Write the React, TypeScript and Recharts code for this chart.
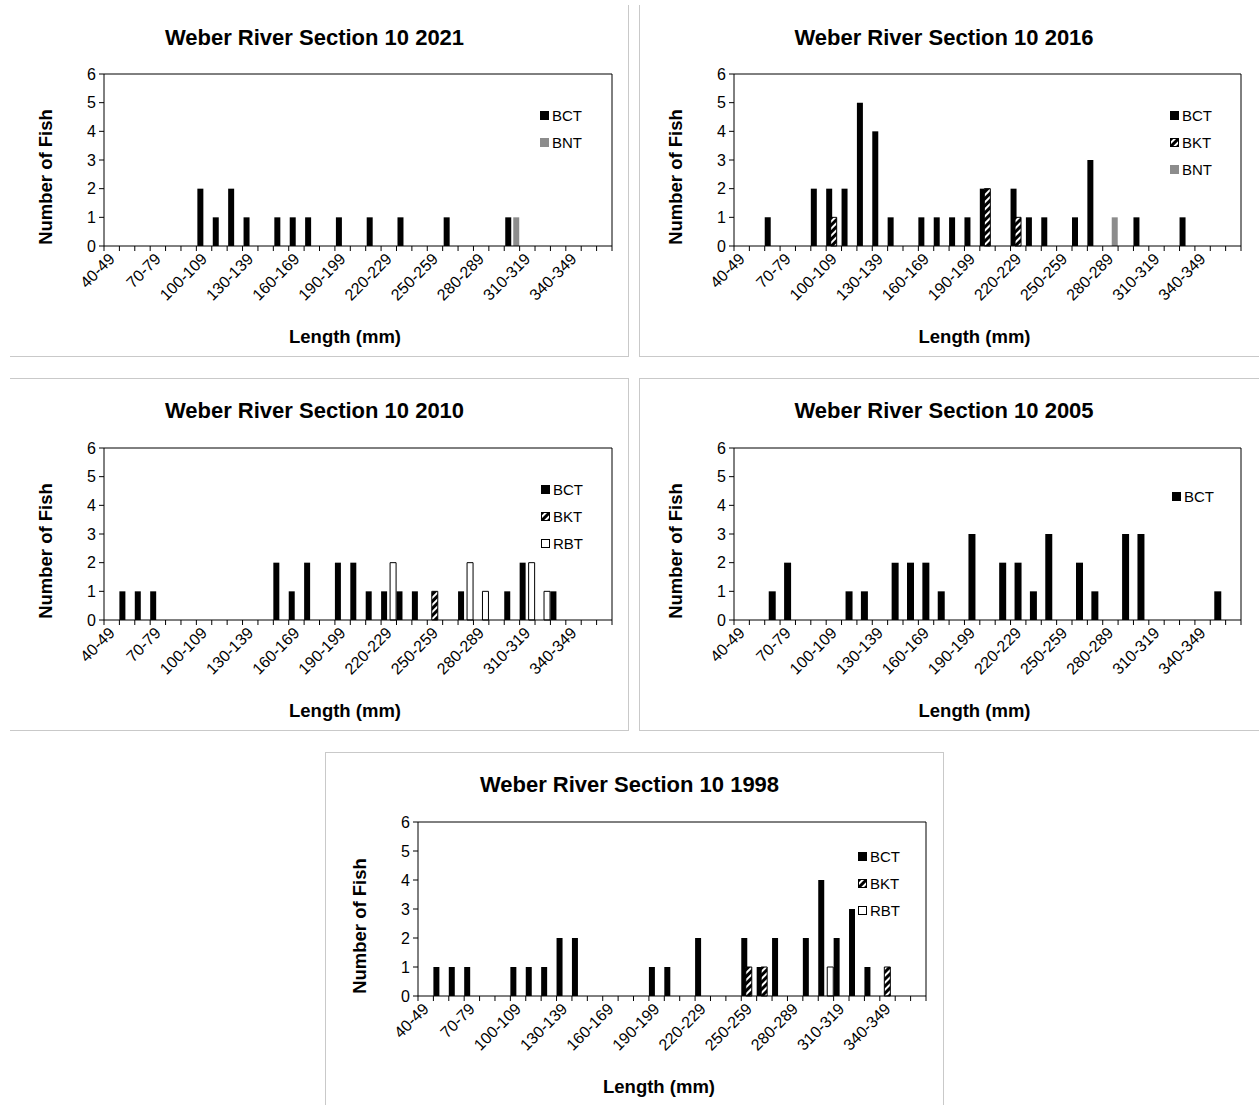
import React from "react";
import {
  BarChart,
  Bar,
  XAxis,
  YAxis,
  CartesianGrid,
  Legend,
} from "recharts";

// Length classes (mm), 10 mm bins
const CATEGORIES = [
  "40-49", "50-59", "60-69", "70-79", "80-89", "90-99", "100-109", "110-119",
  "120-129", "130-139", "140-149", "150-159", "160-169", "170-179", "180-189",
  "190-199", "200-209", "210-219", "220-229", "230-239", "240-249", "250-259",
  "260-269", "270-279", "280-289", "290-299", "300-309", "310-319", "320-329",
  "330-339", "340-349", "350-359", "360-369",
];

const Y_TICKS = [0, 1, 2, 3, 4, 5, 6];

// Fish counts per length class
const BCT_2021 = [
  0, 0, 0, 0, 0, 0, 2, 1, 2, 1, 0,
  1, 1, 1, 0, 1, 0, 1, 0, 1, 0, 0,
  1, 0, 0, 0, 1, 0, 0, 0, 0, 0, 0,
];
const BNT_2021 = [
  0, 0, 0, 0, 0, 0, 0, 0, 0, 0, 0,
  0, 0, 0, 0, 0, 0, 0, 0, 0, 0, 0,
  0, 0, 0, 0, 1, 0, 0, 0, 0, 0, 0,
];

const BCT_2016 = [
  0, 0, 1, 0, 0, 2, 2, 2, 5, 4, 1,
  0, 1, 1, 1, 1, 2, 0, 2, 1, 1, 0,
  1, 3, 0, 0, 1, 0, 0, 1, 0, 0, 0,
];
const BKT_2016 = [
  0, 0, 0, 0, 0, 0, 1, 0, 0, 0, 0,
  0, 0, 0, 0, 0, 2, 0, 1, 0, 0, 0,
  0, 0, 0, 0, 0, 0, 0, 0, 0, 0, 0,
];
const BNT_2016 = [
  0, 0, 0, 0, 0, 0, 0, 0, 0, 0, 0,
  0, 0, 0, 0, 0, 0, 0, 0, 0, 0, 0,
  0, 0, 1, 0, 0, 0, 0, 0, 0, 0, 0,
];

const BCT_2010 = [
  0, 1, 1, 1, 0, 0, 0, 0, 0, 0, 0,
  2, 1, 2, 0, 2, 2, 1, 1, 1, 1, 0,
  0, 1, 0, 0, 1, 2, 0, 1, 0, 0, 0,
];
const BKT_2010 = [
  0, 0, 0, 0, 0, 0, 0, 0, 0, 0, 0,
  0, 0, 0, 0, 0, 0, 0, 0, 0, 0, 1,
  0, 0, 0, 0, 0, 0, 0, 0, 0, 0, 0,
];
const RBT_2010 = [
  0, 0, 0, 0, 0, 0, 0, 0, 0, 0, 0,
  0, 0, 0, 0, 0, 0, 0, 2, 0, 0, 0,
  0, 2, 1, 0, 0, 2, 1, 0, 0, 0, 0,
];

const BCT_2005 = [
  0, 0, 1, 2, 0, 0, 0, 1, 1, 0, 2,
  2, 2, 1, 0, 3, 0, 2, 2, 1, 3, 0,
  2, 1, 0, 3, 3, 0, 0, 0, 0, 1, 0,
];

const BCT_1998 = [
  0, 1, 1, 1, 0, 0, 1, 1, 1, 2, 2,
  0, 0, 0, 0, 1, 1, 0, 2, 0, 0, 2,
  1, 2, 0, 2, 4, 2, 3, 1, 0, 0, 0,
];
const BKT_1998 = [
  0, 0, 0, 0, 0, 0, 0, 0, 0, 0, 0,
  0, 0, 0, 0, 0, 0, 0, 0, 0, 0, 1,
  1, 0, 0, 0, 0, 0, 0, 0, 1, 0, 0,
];
const RBT_1998 = [
  0, 0, 0, 0, 0, 0, 0, 0, 0, 0, 0,
  0, 0, 0, 0, 0, 0, 0, 0, 0, 0, 0,
  0, 0, 0, 0, 1, 0, 0, 0, 0, 0, 0,
];

const FONT = '"Liberation Sans", Arial, Helvetica, sans-serif';
const BORDER = "1px solid #c9c9c9";

type SpeciesKey = "BCT" | "BKT" | "BNT" | "RBT";

type Series = { key: SpeciesKey; values: number[] };

type PanelConfig = {
  id: string;
  title: string;
  box: { left: number; top: number; width: number; height: number };
  plot: { left: number; top: number; right: number; bottom: number };
  borders: { top?: boolean; right?: boolean; bottom?: boolean; left?: boolean };
  series: Series[];
  barSize: number;
  barGap: number;
  legend: { left: number; top: number };
};

const PANELS: PanelConfig[] = [
  {
    id: "s2021",
    title: "Weber River Section 10 2021",
    box: { left: 10, top: 5, width: 619, height: 352 },
    plot: { left: 104, top: 74, right: 612, bottom: 246 },
    borders: { right: true, bottom: true },
    series: [
      { key: "BCT", values: BCT_2021 },
      { key: "BNT", values: BNT_2021 },
    ],
    barSize: 6,
    barGap: 2,
    legend: { left: 540, top: 115 },
  },
  {
    id: "s2016",
    title: "Weber River Section 10 2016",
    box: { left: 639, top: 5, width: 620, height: 352 },
    plot: { left: 734, top: 74, right: 1241, bottom: 246 },
    borders: { left: true, bottom: true },
    series: [
      { key: "BCT", values: BCT_2016 },
      { key: "BKT", values: BKT_2016 },
      { key: "BNT", values: BNT_2016 },
    ],
    barSize: 6,
    barGap: -1.5,
    legend: { left: 1170, top: 115 },
  },
  {
    id: "s2010",
    title: "Weber River Section 10 2010",
    box: { left: 10, top: 378, width: 619, height: 353 },
    plot: { left: 104, top: 448, right: 612, bottom: 620 },
    borders: { top: true, right: true, bottom: true },
    series: [
      { key: "BCT", values: BCT_2010 },
      { key: "BKT", values: BKT_2010 },
      { key: "RBT", values: RBT_2010 },
    ],
    barSize: 6,
    barGap: -1.5,
    legend: { left: 541, top: 489 },
  },
  {
    id: "s2005",
    title: "Weber River Section 10 2005",
    box: { left: 639, top: 378, width: 620, height: 353 },
    plot: { left: 734, top: 448, right: 1241, bottom: 620 },
    borders: { top: true, left: true, bottom: true },
    series: [{ key: "BCT", values: BCT_2005 }],
    barSize: 7,
    barGap: 0,
    legend: { left: 1172, top: 496 },
  },
  {
    id: "s1998",
    title: "Weber River Section 10 1998",
    box: { left: 325, top: 752, width: 619, height: 360 },
    plot: { left: 418, top: 822, right: 926, bottom: 996 },
    borders: { top: true, left: true, right: true },
    series: [
      { key: "BCT", values: BCT_1998 },
      { key: "BKT", values: BKT_1998 },
      { key: "RBT", values: RBT_1998 },
    ],
    barSize: 6,
    barGap: -1.5,
    legend: { left: 858, top: 856 },
  },
];

const Y_AXIS_WIDTH = 40;
const X_AXIS_HEIGHT = 60;
const LEGEND_ROW = 27;
const TICK_FONT = 16;

// fill / outline for each species
const seriesStyle = (key: SpeciesKey, hatchId: string) => {
  switch (key) {
    case "BCT":
      return { fill: "#000", stroke: "none" };
    case "BNT":
      return { fill: "#8c8c8c", stroke: "none" };
    case "BKT":
      return { fill: `url(#${hatchId})`, stroke: "#000" };
    default:
      return { fill: "#fff", stroke: "#000" };
  }
};

const HatchPattern = ({ id }: { id: string }) => (
  <pattern
    id={id}
    width={5}
    height={5}
    patternUnits="userSpaceOnUse"
    patternTransform="rotate(45)"
  >
    <rect width={5} height={5} fill="#fff" />
    <rect width={3} height={5} fill="#000" />
  </pattern>
);

// x axis ticks sit on the category boundaries, labels on every third class
const makeCategoryTick = (step: number, count: number) => (props: any) => {
  const { x, y, payload, index } = props;
  const left = x - step / 2;
  const ax = x + 4;
  const ay = y + 14;
  return (
    <g>
      <line x1={left} y1={y} x2={left} y2={y + 5} stroke="#000" />
      {index === count - 1 && (
        <line x1={x + step / 2} y1={y} x2={x + step / 2} y2={y + 5} stroke="#000" />
      )}
      {index % 3 === 0 && (
        <text
          x={ax}
          y={ay}
          textAnchor="end"
          transform={`rotate(-45 ${ax} ${ay})`}
          fontSize={TICK_FONT}
          fontFamily={FONT}
          fill="#000"
        >
          {payload.value}
        </text>
      )}
    </g>
  );
};

const SpeciesLegend = ({ series, hatchId }: { series: Series[]; hatchId: string }) => (
  <div style={{ fontFamily: FONT }}>
    {series.map((s) => {
      const st = seriesStyle(s.key, `${hatchId}-key`);
      return (
        <div
          key={s.key}
          style={{ display: "flex", alignItems: "center", height: LEGEND_ROW }}
        >
          <svg width={9} height={9} style={{ marginRight: 3, display: "block" }}>
            <defs>
              <HatchPattern id={`${hatchId}-key`} />
            </defs>
            <rect
              x={st.stroke === "none" ? 0 : 0.5}
              y={st.stroke === "none" ? 0 : 0.5}
              width={st.stroke === "none" ? 9 : 8}
              height={st.stroke === "none" ? 9 : 8}
              fill={st.fill}
              stroke={st.stroke}
            />
          </svg>
          <span style={{ fontSize: 15, color: "#000", lineHeight: 1 }}>{s.key}</span>
        </div>
      );
    })}
  </div>
);

const Panel = ({ cfg }: { cfg: PanelConfig }) => {
  const { box, plot } = cfg;
  const plotWidth = plot.right - plot.left;
  const step = plotWidth / CATEGORIES.length;
  const hatchId = `hatch-${cfg.id}`;

  const data = CATEGORIES.map((range, i) => {
    const row: Record<string, string | number> = { range };
    cfg.series.forEach((s) => {
      row[s.key] = s.values[i];
    });
    return row;
  });

  const margin = {
    top: plot.top - box.top,
    right: box.left + box.width - plot.right,
    left: plot.left - box.left - Y_AXIS_WIDTH,
    bottom: box.top + box.height - plot.bottom - X_AXIS_HEIGHT,
  };

  const midX = (plot.left + plot.right) / 2;
  const midY = (plot.top + plot.bottom) / 2;

  return (
    <>
      <div
        style={{
          position: "absolute",
          left: box.left,
          top: box.top,
          width: box.width,
          height: box.height,
          boxSizing: "border-box",
          borderTop: cfg.borders.top ? BORDER : "none",
          borderRight: cfg.borders.right ? BORDER : "none",
          borderBottom: cfg.borders.bottom ? BORDER : "none",
          borderLeft: cfg.borders.left ? BORDER : "none",
        }}
      />
      <div style={{ position: "absolute", left: box.left, top: box.top }}>
        <BarChart
          width={box.width}
          height={box.height}
          data={data}
          margin={margin}
          barSize={cfg.barSize}
          barGap={cfg.barGap}
          barCategoryGap={0}
        >
          <defs>
            <HatchPattern id={hatchId} />
          </defs>
          <CartesianGrid
            stroke="#000"
            horizontalCoordinatesGenerator={({ offset }: any) => [offset.top]}
            verticalCoordinatesGenerator={({ offset }: any) => [offset.left + offset.width]}
          />
          <XAxis
            dataKey="range"
            interval={0}
            height={X_AXIS_HEIGHT}
            tickLine={false}
            tickSize={0}
            tickMargin={0}
            axisLine={{ stroke: "#000" }}
            tick={makeCategoryTick(step, CATEGORIES.length)}
          />
          <YAxis
            type="number"
            domain={[0, 6]}
            ticks={Y_TICKS}
            interval={0}
            width={Y_AXIS_WIDTH}
            tickSize={5}
            tickMargin={3}
            axisLine={{ stroke: "#000" }}
            tickLine={{ stroke: "#000" }}
            tick={{ fill: "#000", fontSize: TICK_FONT, fontFamily: FONT }}
          />
          <Legend
            layout="vertical"
            align="center"
            verticalAlign="middle"
            wrapperStyle={{
              left: cfg.legend.left - box.left,
              top: cfg.legend.top - box.top - LEGEND_ROW / 2,
              width: "auto",
              height: "auto",
            }}
            content={() => <SpeciesLegend series={cfg.series} hatchId={hatchId} />}
          />
          {cfg.series.map((s) => {
            const st = seriesStyle(s.key, hatchId);
            return (
              <Bar
                key={s.key}
                dataKey={s.key}
                fill={st.fill}
                stroke={st.stroke}
                strokeWidth={st.stroke === "none" ? 0 : 1}
                isAnimationActive={false}
              />
            );
          })}
        </BarChart>
      </div>
      <div
        style={{
          position: "absolute",
          left: box.left + box.width / 2 - 5,
          top: box.top + 33,
          transform: "translate(-50%, -50%)",
          whiteSpace: "nowrap",
          fontFamily: FONT,
          fontWeight: "bold",
          fontSize: 22,
          color: "#000",
        }}
      >
        {cfg.title}
      </div>
      <div
        style={{
          position: "absolute",
          left: midX - 13,
          top: plot.bottom + 91,
          transform: "translate(-50%, -50%)",
          whiteSpace: "nowrap",
          fontFamily: FONT,
          fontWeight: "bold",
          fontSize: 18.5,
          color: "#000",
        }}
      >
        Length (mm)
      </div>
      <div
        style={{
          position: "absolute",
          left: plot.left - 58,
          top: midY + 17,
          transform: "translate(-50%, -50%) rotate(-90deg)",
          whiteSpace: "nowrap",
          fontFamily: FONT,
          fontWeight: "bold",
          fontSize: 18.5,
          color: "#000",
        }}
      >
        Number of Fish
      </div>
    </>
  );
};

export default function App() {
  return (
    <div
      style={{
        position: "absolute",
        left: 0,
        top: 0,
        width: 1259,
        height: 1105,
        overflow: "hidden",
        background: "#fff",
        fontFamily: FONT,
      }}
    >
      {PANELS.map((p) => (
        <Panel key={p.id} cfg={p} />
      ))}
    </div>
  );
}
